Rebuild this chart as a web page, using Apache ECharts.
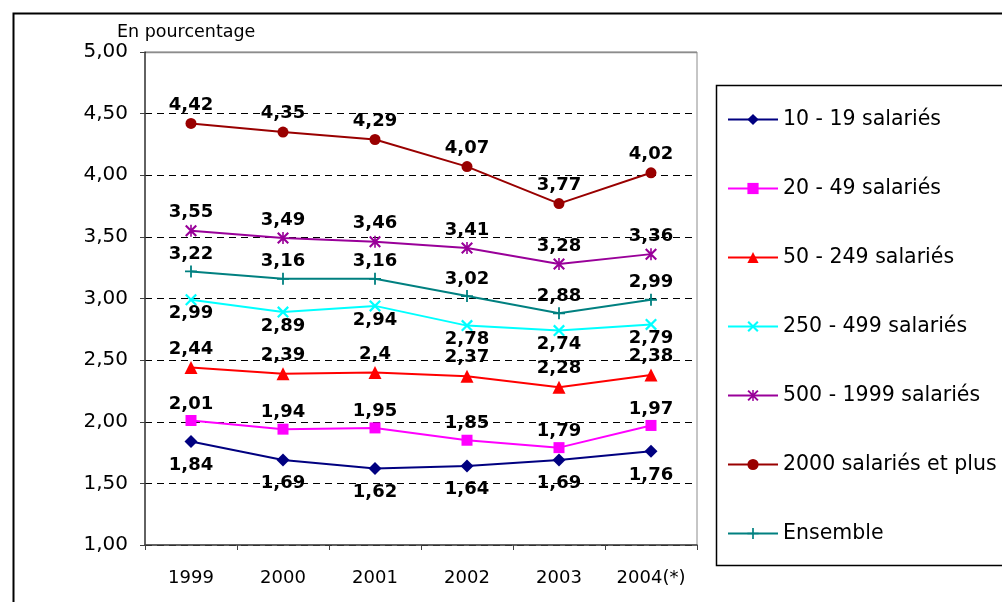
<!DOCTYPE html>
<html>
<head>
<meta charset="utf-8">
<script src="https://cdn.jsdelivr.net/npm/echarts@6/dist/echarts.min.js"></script>
<style>
html,body{margin:0;padding:0;background:#fff;}
#chart{width:1002px;height:602px;}
</style>
</head>
<body>
<div id="chart"></div>
<script>
var categories = ['1999', '2000', '2001', '2002', '2003', '2004(*)'];
var s10_19 = [1.84, 1.69, 1.62, 1.64, 1.69, 1.76];
var s20_49 = [2.01, 1.94, 1.95, 1.85, 1.79, 1.97];
var s50_249 = [2.44, 2.39, 2.4, 2.37, 2.28, 2.38];
var s250_499 = [2.99, 2.89, 2.94, 2.78, 2.74, 2.79];
var s500_1999 = [3.55, 3.49, 3.46, 3.41, 3.28, 3.36];
var s2000plus = [4.42, 4.35, 4.29, 4.07, 3.77, 4.02];
var sEnsemble = [3.22, 3.16, 3.16, 3.02, 2.88, 2.99];
var seriesNames = ['10 - 19 salariés', '20 - 49 salariés', '50 - 249 salariés', '250 - 499 salariés', '500 - 1999 salariés', '2000 salariés et plus', 'Ensemble'];
var yMin = 1, yMax = 5, yStep = 0.5;

var PATH_X = 'path://M0,1.6L1.6,0L12,10.4L10.4,12Z M10.4,0L12,1.6L1.6,12L0,10.4Z';
var PATH_AST = 'path://M0,1.5L1.5,0L12,10.5L10.5,12Z M10.5,0L12,1.5L1.5,12L0,10.5Z M5.2,0H6.8V12H5.2Z';
var PATH_PLUS = 'path://M5.1,0H6.9V12H5.1Z M0,5.1H12V6.9H0Z';

function fmt(v) { return String(v).replace('.', ','); }

function mk(name, data, color, symbol, size, pos, dist) {
  return {
    name: name,
    type: 'line',
    data: data,
    symbol: symbol,
    symbolSize: size,
    showAllSymbol: true,
    lineStyle: { color: color, width: 2 },
    itemStyle: { color: color, borderWidth: 0 },
    label: {
      show: true,
      position: pos,
      distance: dist,
      formatter: function (p) { return fmt(p.value); },
      fontFamily: 'DejaVu Sans',
      fontWeight: 'bold',
      fontSize: 18,
      color: '#000'
    },
    emphasis: { disabled: true },
    animation: false
  };
}

var chart = echarts.init(document.getElementById('chart'), null, { renderer: 'canvas' });
chart.setOption({
  backgroundColor: '#fff',
  animation: false,
  grid: {
    left: 145, right: 305, top: 52, bottom: 57,
    show: true, borderColor: '#8c8c8c', borderWidth: 1, backgroundColor: '#fff'
  },
  legend: {
    orient: 'vertical',
    left: 727,
    top: 109,
    padding: 0,
    itemWidth: 50,
    itemHeight: 14,
    itemGap: 48,
    data: seriesNames,
    textStyle: { fontFamily: 'DejaVu Sans', fontSize: 20.5, color: '#000', lineHeight: 20 },
    selectedMode: false
  },
  xAxis: {
    type: 'category',
    data: categories,
    boundaryGap: true,
    axisLine: { lineStyle: { color: '#404040', width: 1.5 } },
    axisTick: { show: true, length: 5, lineStyle: { color: '#404040' } },
    axisLabel: { fontFamily: 'DejaVu Sans', fontSize: 18, color: '#000', margin: 24 }
  },
  yAxis: {
    type: 'value',
    min: yMin, max: yMax, interval: yStep,
    axisLine: { show: true, lineStyle: { color: '#404040', width: 1.5 } },
    axisTick: { show: true, length: 5, lineStyle: { color: '#404040' } },
    axisLabel: {
      fontFamily: 'DejaVu Sans', fontSize: 20, color: '#000', margin: 17,
      formatter: function (v) { return v.toFixed(2).replace('.', ','); }
    },
    splitLine: { show: true, lineStyle: { color: '#000', type: [7, 5], width: 1 } }
  },
  graphic: [
    { type: 'rect', left: 11, top: 11, shape: { width: 1100, height: 700 },
      style: { fill: 'none', stroke: '#000', lineWidth: 2 }, z: 100, silent: true },
    { type: 'line', shape: { x1: 146, y1: 52.5, x2: 697, y2: 52.5 },
      style: { stroke: '#8c8c8c', lineWidth: 1.5 }, z: 100, silent: true },
    { type: 'rect', left: 714, top: 83, shape: { width: 400, height: 480 },
      style: { fill: 'none', stroke: '#000', lineWidth: 1.5 }, z: 100, silent: true },
    { type: 'text', left: 117, top: 23,
      style: { text: 'En pourcentage', fontFamily: 'DejaVu Sans', fontSize: 17.5, fill: '#000' } }
  ],
  series: [
    mk(seriesNames[0], s10_19, '#000080', 'diamond', 13, 'bottom', 8),
    mk(seriesNames[1], s20_49, '#FF00FF', 'rect', 11, 'top', 2),
    mk(seriesNames[2], s50_249, '#FF0000', 'triangle', 13, 'top', 3),
    mk(seriesNames[3], s250_499, '#00FFFF', PATH_X, 12, 'bottom', -1),
    mk(seriesNames[4], s500_1999, '#990099', PATH_AST, 12, 'top', 3),
    mk(seriesNames[5], s2000plus, '#990000', 'circle', 11, 'top', 4),
    mk(seriesNames[6], sEnsemble, '#008080', PATH_PLUS, 12, 'top', 2)
  ]
});
</script>
</body>
</html>
